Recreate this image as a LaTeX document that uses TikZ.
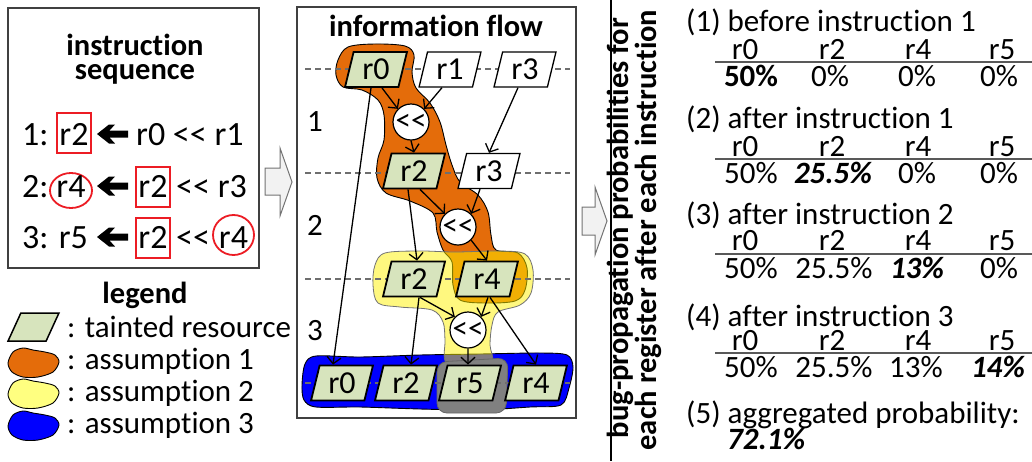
\documentclass[tikz,border=0pt]{standalone}
\usepackage{fontspec}
\setmainfont{Carlito}[Ligatures={NoCommon}]
\usetikzlibrary{shapes.geometric,arrows.meta}
\definecolor{taint}{RGB}{215,228,189}
\definecolor{asmorange}{RGB}{228,108,10}
\definecolor{asmyellow}{RGB}{255,255,128}
\definecolor{asmblue}{RGB}{0,0,255}
\definecolor{markred}{RGB}{236,28,36}
\definecolor{framecol}{RGB}{64,64,64}
\definecolor{dashcol}{RGB}{110,110,110}
\newcommand\fsTitle{\fontsize{30.5}{36}\selectfont\bfseries}
\newcommand\fsInstr{\fontsize{34}{40}\selectfont}
\newcommand\fsText{\fontsize{31}{37}\selectfont}
\newcommand\fsReg{\fontsize{32}{38}\selectfont}
\newcommand\shl{<{}<}
\begin{document}
\begin{tikzpicture}[x=1pt,y=-1pt,
  reg/.style={trapezium, trapezium left angle=76, trapezium right angle=104,
    trapezium stretches=true, minimum width=62pt, minimum height=35pt,
    inner sep=0pt, draw=black, line width=1.8pt, fill=taint, font=\fsReg},
  regw/.style={reg, fill=white, line width=1.3pt},
  op/.style={circle, draw=black, line width=1.2pt, fill=white,
    minimum size=36pt, inner sep=0pt, font=\fsText},
  flow/.style={-{Straight Barb[length=6.5pt,width=14pt]}, line width=1.3pt},
  frame/.style={draw=framecol, line width=1.3pt},
  txt/.style={anchor=base west, inner sep=0pt, font=\fsText},
  ctxt/.style={anchor=base, inner sep=0pt, font=\fsText},
  itxt/.style={anchor=base west, inner sep=0pt, font=\fsInstr},
  ictxt/.style={anchor=base, inner sep=0pt, font=\fsInstr},
  ttl/.style={anchor=base, inner sep=0pt, font=\fsTitle},
  vttl/.style={anchor=base, inner sep=0pt, font=\fsTitle, rotate=90},
  markbox/.style={draw=markred, line width=1.8pt, rectangle,
    minimum width=34pt, minimum height=40pt, inner sep=0pt},
  markring/.style={draw=markred, line width=1.8pt, ellipse, inner sep=0pt},
  blockarrow/.style={fill=black!5, draw=black!55, line width=1pt},
  rowline/.style={draw=dashcol, line width=1.2pt, dash pattern=on 6pt off 4pt},
  tablerule/.style={draw=black!65, line width=1.3pt},
  blob/.style={draw=black, line width=0.9pt},
  larrow/.pic={\fill (0,0) -- (12,-9.5) -- (18,-9.5) -- (12.5,-3.5) -- (31,-3.5)
    -- (31,3.5) -- (12.5,3.5) -- (18,9.5) -- (12,9.5) -- cycle;}
]
\fill[white] (0,0) rectangle (1032,461);
\useasboundingbox (0,0) rectangle (1032,461);

% ---------- instruction sequence ----------
\draw[frame] (8,8) rectangle (259,268);
\node[ttl] (ttlA) at (135,55) {instruction};
\node[ttl] (ttlB) at (135,79) {sequence};

\node[markbox] (m1) at (74,133) {};
\node[itxt] (l1n) at (22,145) {1:};
\node[ictxt] (l1d) at (74,145) {r2};
\pic at (97,134) {larrow};
\node[itxt] (l1s) at (136,145) {r0 \shl{} r1};

\node[markring, minimum width=42pt, minimum height=35pt] (m2) at (71,190.5) {};
\node[itxt] (l2n) at (22,197) {2:};
\node[ictxt] (l2d) at (71,197) {r4};
\pic at (97,186) {larrow};
\node[markbox] (m3) at (153,187) {};
\node[ictxt] (l2a) at (153,197) {r2};
\node[itxt] (l2s) at (176,197) {\shl{} r3};

\node[itxt] (l3n) at (22,248) {3: r5};
\pic at (97,237) {larrow};
\node[markbox] (m4) at (153,238) {};
\node[ictxt] (l3a) at (153,248) {r2};
\node[itxt] (l3s) at (176,248) {\shl};
\node[markring, minimum width=41pt, minimum height=40pt] (m5) at (233.5,235) {};
\node[ictxt] (l3b) at (233.5,248) {r4};

\draw[blockarrow] (265,168) -- (280,168) -- (280,148) -- (292,182) -- (280,216)
  -- (280,195) -- (265,195) -- cycle;

% ---------- legend ----------
\node[ttl] (lgT) at (145,303) {legend};
\node[reg, trapezium left angle=70, trapezium right angle=110,
  minimum width=51pt, minimum height=28pt, line width=1.5pt] (lgR) at (33.5,327) {\phantom{r}};
\node[txt] (lgRt) at (67,337) {: tainted resource};
\begin{scope}[shift={(33,362)}]
  \filldraw[blob, fill=asmorange] plot[smooth cycle] coordinates
    {(-25,1) (-20,-10) (-10,-14) (0,-12) (12,-10) (22,-7) (26,0) (20,10) (5,15) (-10,15) (-21,10)};
\end{scope}
\begin{scope}[shift={(33,393)}]
  \filldraw[blob, fill=asmyellow] plot[smooth cycle] coordinates
    {(-25,1) (-20,-10) (-10,-14) (0,-12) (12,-10) (22,-7) (26,0) (20,10) (5,15) (-10,15) (-21,10)};
\end{scope}
\begin{scope}[shift={(33,425)}]
  \filldraw[blob, fill=asmblue] plot[smooth cycle] coordinates
    {(-25,1) (-20,-10) (-10,-14) (0,-12) (12,-10) (22,-7) (26,0) (20,10) (5,15) (-10,15) (-21,10)};
\end{scope}
\node[txt] (lg1) at (67,369) {: assumption 1};
\node[txt] (lg2) at (67,401) {: assumption 2};
\node[txt] (lg3) at (67,433) {: assumption 3};

% ---------- information flow ----------
\draw[frame] (297,7) rectangle (576,418);
\node[ttl] (ttlC) at (436,36) {information flow};

% assumption regions
\filldraw[blob, fill=asmblue] plot[smooth cycle, tension=0.5] coordinates
  {(302,385) (305,364) (316,356) (360,357) (420,355) (480,354) (540,353) (567,355)
   (573,367) (569,388) (561,405) (530,407) (480,410) (420,409) (360,407) (316,407) (304,400)};
\filldraw[blob, fill=asmorange] plot[smooth cycle, tension=0.55] coordinates
  {(338,60) (348,47) (375,44) (405,46) (414,55) (412,72) (416,88) (430,103) (440,122)
   (446,145) (452,165) (460,182) (478,195) (488,212) (491,235) (496,250) (518,253)
   (527,268) (525,290) (515,301) (485,303) (460,300) (453,285) (452,262) (443,250)
   (437,232) (433,213) (410,201) (386,193) (377,178) (378,158) (384,140) (384,115)
   (378,100) (362,90) (343,87) (336,75)};
\filldraw[fill=yellow, fill opacity=0.5, draw=black!55, line width=0.8pt]
  plot[smooth cycle, tension=0.55] coordinates
  {(385,253) (420,251) (455,252) (500,251) (525,254) (533,270) (531,293) (520,305)
   (498,312) (492,325) (490,345) (492,362) (470,364) (446,362) (445,340) (443,322)
   (432,310) (400,307) (378,303) (373,285) (375,265)};
\filldraw[fill=gray, draw=black!60, line width=0.8pt, rounded corners=10pt]
  (437,362) -- (508,358) -- (506,413) -- (437,413) -- cycle;

% instruction boundaries
\draw[rowline] (305,69) -- (570,69);
\draw[rowline] (305,173) -- (570,173);
\draw[rowline] (305,279) -- (570,279);
\draw[rowline] (305,383) -- (570,383);
\node[ctxt] (k1) at (315,131) {1};
\node[ctxt] (k2) at (315,235) {2};
\node[ctxt] (k3) at (315,340) {3};

% resources and operations
\node[reg]  (R0a) at (376,69.5) {r0};
\node[regw] (R1a) at (450,69.5) {r1};
\node[regw] (R3a) at (525,69.5) {r3};
\node[op]   (C1)  at (411,122) {\shl};
\node[reg]  (R2b) at (414,171) {r2};
\node[regw] (R3b) at (489,171) {r3};
\node[op]   (C2)  at (458,227) {\shl};
\node[reg]  (R2c) at (414,279) {r2};
\node[reg]  (R4c) at (487,279) {r4};
\node[op]   (C3)  at (468,330) {\shl};
\node[reg]  (R0d) at (342,383) {r0};
\node[reg]  (R2d) at (406,383) {r2};
\node[reg]  (R5d) at (470,383) {r5};
\node[reg]  (R4d) at (536,383) {r4};

\draw[flow] ([xshift=6pt]R0a.south) -- (C1.north west);
\draw[flow] ([xshift=-8pt]R1a.south) -- (C1.north east);
\draw[flow] (C1.south) -- (R2b.north);
\draw[flow] ([xshift=-7pt]R3a.south) -- (R3b.north);
\draw[flow] ([xshift=-5pt]R0a.south) -- ([xshift=-9pt]R0d.north);
\draw[flow] ([xshift=6pt]R2b.south) -- (C2.north west);
\draw[flow] ([xshift=-9pt]R3b.south) -- (C2.north east);
\draw[flow] ([xshift=-6pt]R2b.south) -- ([xshift=3pt]R2c.north);
\draw[flow] (C2.south east) -- (R4c.north);
\draw[flow] ([xshift=6pt]R2c.south) -- (C3.north west);
\draw[flow] ([xshift=1pt]R4c.south) -- (C3.north east);
\draw[flow] ([xshift=3pt]R4c.south) -- (R4d.north);
\draw[flow] ([xshift=5pt]R2c.south) -- ([xshift=5pt]R2d.north);
\draw[flow] (C3.south) -- ([xshift=-2pt]R5d.north);

\draw[blockarrow] (582,207) -- (595,207) -- (595,187) -- (607,221) -- (595,255)
  -- (595,235) -- (582,235) -- cycle;

% ---------- propagation probabilities ----------
\draw[black, line width=1.2pt] (611,0) -- (611,461);
\node[vttl] (vt1) at (628,228) {bug-propagation probabilities for};
\node[vttl] (vt2) at (656,230) {each register after each instruction};

% (1)
\node[txt] (s1) at (686,31) {(1) before instruction 1};
\node[ctxt] (s1a) at (745,59) {r0};
\node[ctxt] (s1b) at (832,59) {r2};
\node[ctxt] (s1c) at (918,59) {r4};
\node[ctxt] (s1d) at (1002,59) {r5};
\draw[tablerule] (715,62) -- (1032,62);
\node[ctxt] (v1a) at (751,86) {\textbf{50\%}};
\node[ctxt] (v1b) at (830,86) {0\%};
\node[ctxt] (v1c) at (917,86) {0\%};
\node[ctxt] (v1d) at (999,86) {0\%};
% (2)
\node[txt] (s2) at (686,128) {(2) after instruction 1};
\node[ctxt] (s2a) at (745,156) {r0};
\node[ctxt] (s2b) at (832,156) {r2};
\node[ctxt] (s2c) at (918,156) {r4};
\node[ctxt] (s2d) at (1002,156) {r5};
\draw[tablerule] (715,159) -- (1032,159);
\node[ctxt] (v2a) at (751,183) {50\%};
\node[ctxt] (v2b) at (833,183) {\textbf{\textit{25.5\%}}};
\node[ctxt] (v2c) at (917,183) {0\%};
\node[ctxt] (v2d) at (999,183) {0\%};
% (3)
\node[txt] (s3) at (686,224) {(3) after instruction 2};
\node[ctxt] (s3a) at (745,250) {r0};
\node[ctxt] (s3b) at (832,250) {r2};
\node[ctxt] (s3c) at (918,250) {r4};
\node[ctxt] (s3d) at (1002,250) {r5};
\draw[tablerule] (715,254) -- (1032,254);
\node[ctxt] (v3a) at (751,278) {50\%};
\node[ctxt] (v3b) at (834,278) {25.5\%};
\node[ctxt] (v3c) at (917,278) {\textbf{\textit{13\%}}};
\node[ctxt] (v3d) at (999,278) {0\%};
% (4)
\node[txt] (s4) at (686,326) {(4) after instruction 3};
\node[ctxt] (s4a) at (745,350) {r0};
\node[ctxt] (s4b) at (832,350) {r2};
\node[ctxt] (s4c) at (918,350) {r4};
\node[ctxt] (s4d) at (1002,350) {r5};
\draw[tablerule] (715,353) -- (1032,353);
\node[ctxt] (v4a) at (751,377) {50\%};
\node[ctxt] (v4b) at (834,377) {25.5\%};
\node[ctxt] (v4c) at (916,377) {13\%};
\node[ctxt] (v4d) at (998,377) {\textbf{\textit{14\%}}};
% (5)
\node[txt] (s5) at (686,423) {(5) aggregated probability:};
\node[txt] (v5) at (727,449) {\textbf{\textit{72.1\%}}};
\end{tikzpicture}
\end{document}
